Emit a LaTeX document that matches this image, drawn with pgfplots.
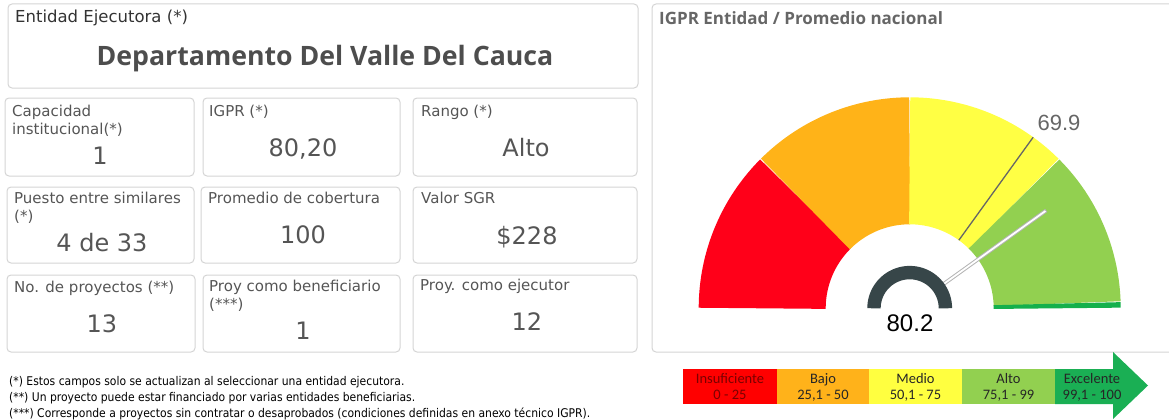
\documentclass[border=0pt]{standalone}
\usepackage{pgfplots}
\pgfplotsset{compat=1.18}
\usepackage{fontspec}
\setmainfont{DejaVu Sans}
\newfontfamily\condfont{DejaVu Sans Condensed}
\newfontfamily\headfont{Open Sans}
\newfontfamily\numfont{Liberation Sans}
\newfontfamily\legfont{Carlito}

\definecolor{gRed}{HTML}{FF0019}
\definecolor{gOrange}{HTML}{FFB318}
\definecolor{gYellow}{HTML}{FFFF44}
\definecolor{gGreen}{HTML}{92D050}
\definecolor{gDGreen}{HTML}{14B04C}
\definecolor{lRed}{HTML}{FF0000}
\definecolor{lOrange}{HTML}{FFB21A}
\definecolor{lYellow}{HTML}{FFFF40}
\definecolor{lGreen}{HTML}{92D050}
\definecolor{lDGreen}{HTML}{1AAF54}
\definecolor{txt}{HTML}{555555}
\definecolor{ttl}{HTML}{4D4D4D}
\definecolor{boxc}{HTML}{D4D4D4}
\definecolor{dial}{HTML}{374649}
\definecolor{needle}{HTML}{B4B4B4}
\definecolor{refl}{HTML}{666666}
\definecolor{dred}{HTML}{7A0000}

% gauge geometry (pixels): centre, mean radius of the ring
\def\cx{909.7}
\def\cy{308.3}
\def\rm{147.5}

\newcommand{\lab}[3]{\node[anchor=base west, inner sep=0pt, text=txt, font=\fontsize{15bp}{18bp}\selectfont] at (axis cs:#1,#2) {#3};}
\newcommand{\val}[3]{\node[anchor=base, inner sep=0pt, text=txt, font=\fontsize{24bp}{28bp}\selectfont] at (axis cs:#1,#2) {#3};}
\newcommand{\card}[4]{\draw[boxc, line width=1bp, rounded corners=4bp] (axis cs:#1,#2) rectangle (axis cs:#3,#4);}
\newcommand{\band}[3]{\addplot[draw=#3, line width=127bp, domain=#1:#2, samples=60, variable=\t]
  ({\cx+\rm*cos(180-1.8*\t)}, {\cy-\rm*sin(180-1.8*\t)});}
\newcommand{\leg}[5]{\node[align=center, inner sep=0pt, text=#4, font=\legfont\fontsize{14.5bp}{16bp}\selectfont] at (axis cs:#1,#2) {#3\\#5};}

\begin{document}
\begin{tikzpicture}
\begin{axis}[
  scale only axis, width=1169bp, height=419bp,
  xmin=0, xmax=1169, ymin=0, ymax=419, y dir=reverse,
  hide axis, clip=true]

% ---------------- left panel ----------------
\card{8}{4}{638}{88}
\node[anchor=base west, inner sep=0pt, text=black!80, font=\fontsize{16.5bp}{20bp}\selectfont] at (axis cs:15,23) {Entidad Ejecutora (*)};
\node[anchor=base, inner sep=0pt, text=ttl, font=\headfont\bfseries\fontsize{26.7bp}{30bp}\selectfont] at (axis cs:325,66) {Departamento Del Valle Del Cauca};

\card{5}{98}{194}{176}
\card{203}{98}{400}{176}
\card{413}{98}{637}{176}
\card{7}{187}{194}{263}
\card{201}{187}{400}{263}
\card{413}{187}{637}{263}
\card{7}{275}{195}{352}
\card{203}{275}{400}{352}
\card{413}{275}{637}{352}

\lab{12}{116}{Capacidad}
\lab{12}{134}{institucional(*)}
\val{100}{164}{1}
\lab{209}{116}{IGPR (*)}
\val{303}{156}{80,20}
\lab{421}{116}{Rango (*)}
\val{526}{156}{Alto}

\lab{14}{203}{Puesto entre similares}
\lab{14}{221}{(*)}
\val{102}{251}{4 de 33}
\lab{208}{203}{Promedio de cobertura}
\val{303}{243}{100}
\lab{421}{203}{Valor SGR}
\val{527}{244}{\$228}

\lab{14}{292}{No. de proyectos (**)}
\val{102}{332}{13}
\lab{209}{291}{Proy como beneficiario}
\lab{209}{309}{(***)}
\val{303}{339}{1}
\lab{420}{290}{Proy. como ejecutor}
\val{527}{330}{12}

\node[anchor=base west, inner sep=0pt, text=black, font=\condfont\fontsize{12bp}{14bp}\selectfont] at (axis cs:9,385) {(*) Estos campos solo se actualizan al seleccionar una entidad ejecutora.};
\node[anchor=base west, inner sep=0pt, text=black, font=\condfont\fontsize{12bp}{14bp}\selectfont] at (axis cs:9,401) {(**) Un proyecto puede estar financiado por varias entidades beneficiarias.};
\node[anchor=base west, inner sep=0pt, text=black, font=\condfont\fontsize{12bp}{14bp}\selectfont] at (axis cs:9,417) {(***) Corresponde a proyectos sin contratar o desaprobados (condiciones definidas en anexo técnico IGPR).};

% ---------------- right panel ----------------
\draw[boxc, line width=1bp, rounded corners=4bp] (axis cs:1175,4) -- (axis cs:652,4) -- (axis cs:652,352) -- (axis cs:1175,352);
\node[anchor=base west, inner sep=0pt, text=refl, font=\headfont\bfseries\fontsize{17bp}{20bp}\selectfont] at (axis cs:659,25) {IGPR Entidad / Promedio nacional};

% gauge bands (range limits 0,25,50,75,99,100)
\band{0}{25}{gRed}
\band{25}{50}{gOrange}
\band{50}{75}{gYellow}
\band{75}{99}{gGreen}
\addplot[draw=gDGreen, line width=127bp, domain=99:100, samples=5, variable=\t]
  ({\cx+\rm*cos(180-1.8*\t)}, {\cy-\rm*sin(180-1.8*\t)});

% national average 69.9
\addplot[draw=refl, line width=1.3bp, domain=84:211, samples=2, variable=\t]
  ({\cx+\t*cos(180-1.8*69.9)}, {\cy-\t*sin(180-1.8*69.9)});
\node[anchor=base, inner sep=0pt, text=refl, font=\numfont\fontsize{22bp}{26bp}\selectfont] at (axis cs:1059,130.7) {69.9};

% entity value 80.2
\addplot[draw=needle, line width=3.8bp, domain=40:168, samples=2, variable=\t]
  ({\cx+\t*cos(180-1.8*80.2)}, {\cy-\t*sin(180-1.8*80.2)});
\addplot[draw=white, line width=1.8bp, domain=40:167, samples=2, variable=\t]
  ({\cx+\t*cos(180-1.8*80.2)}, {\cy-\t*sin(180-1.8*80.2)});
\addplot[draw=dial, line width=13.4bp, domain=0:180, samples=90]
  ({\cx+35.7*cos(x)}, {\cy-35.7*sin(x)});
\node[anchor=base, inner sep=0pt, text=black, font=\numfont\fontsize{24bp}{28bp}\selectfont] at (axis cs:910,331.7) {80.2};

% ---------------- legend arrow ----------------
\fill[lRed] (axis cs:683,369) rectangle (axis cs:777,404);
\fill[lOrange] (axis cs:777,369) rectangle (axis cs:869,404);
\fill[lYellow] (axis cs:869,369) rectangle (axis cs:962,404);
\fill[lGreen] (axis cs:962,369) rectangle (axis cs:1055,404);
\fill[lDGreen] (axis cs:1055,369) -- (axis cs:1113,369) -- (axis cs:1113,352) -- (axis cs:1148,385.5)
  -- (axis cs:1113,419) -- (axis cs:1113,404) -- (axis cs:1055,404) -- cycle;
\leg{730}{387}{Insuficiente}{dred}{0 - 25}
\leg{823}{387}{Bajo}{black!85}{25,1 - 50}
\leg{915.5}{387}{Medio}{black!85}{50,1 - 75}
\leg{1008.5}{387}{Alto}{black!85}{75,1 - 99}
\leg{1092}{387}{Excelente}{black!85}{99,1 - 100}
\end{axis}
\pgfresetboundingbox
\path[use as bounding box] (current axis.south west) rectangle (current axis.north east);
\end{tikzpicture}
\end{document}
